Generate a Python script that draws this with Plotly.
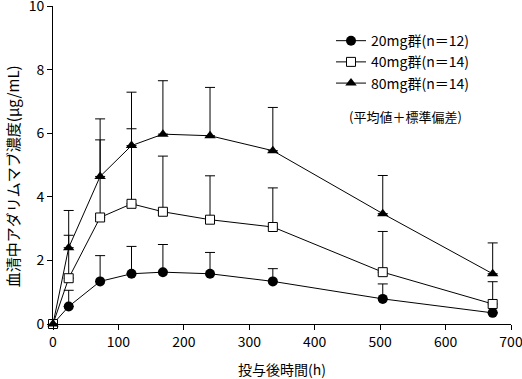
import plotly.graph_objects as go

hours = [0, 24, 72, 120, 168, 240, 336, 504, 672]
mean_20 = [0, 0.55, 1.34, 1.58, 1.63, 1.58, 1.34, 0.79, 0.35]
sd_20 = [0, 0.51, 0.81, 0.86, 0.87, 0.67, 0.40, 0.47, 0.0]
mean_40 = [0, 1.44, 3.35, 3.78, 3.53, 3.28, 3.05, 1.63, 0.63]
sd_40 = [0, 1.35, 2.44, 2.36, 1.75, 1.38, 1.23, 1.28, 0.70]
mean_80 = [0, 2.40, 4.64, 5.61, 5.97, 5.92, 5.45, 3.47, 1.58]
sd_80 = [0, 1.17, 1.81, 1.68, 1.68, 1.52, 1.36, 1.20, 0.97]

names = ["20mg群(n＝12)", "40mg群(n＝14)", "80mg群(n＝14)"]
FONT = "Noto Sans CJK JP"

fig = go.Figure()
series = [
    (mean_20, sd_20, dict(symbol="circle", size=10, color="black")),
    (mean_40, sd_40, dict(symbol="square", size=9, color="white", line=dict(color="black", width=1))),
    (mean_80, sd_80, dict(symbol="triangle-up", size=10, color="black")),
]
for (m, s, mk), nm in zip(series, names):
    fig.add_trace(go.Scatter(
        x=hours, y=m, name=nm, mode="lines+markers",
        line=dict(color="black", width=1),
        marker=mk,
        error_y=dict(type="data", array=s, arrayminus=[0]*len(s), symmetric=False,
                     color="black", thickness=1, width=5),
        cliponaxis=False,
    ))

fig.update_layout(
    width=522, height=379,
    margin=dict(l=53, r=11, t=6, b=55),
    plot_bgcolor="white", paper_bgcolor="white",
    font=dict(family=FONT, size=14, color="black"),
    showlegend=True,
    legend=dict(x=0.607, y=0.94, xanchor="left", yanchor="top",
                bgcolor="rgba(0,0,0,0)", font=dict(family=FONT, size=14),
                itemwidth=30, tracegroupgap=0),
    xaxis=dict(range=[0, 700], tickvals=[0, 100, 200, 300, 400, 500, 600, 700],
               showline=True, linecolor="black", linewidth=1, ticks="outside",
               ticklen=5, tickcolor="black", showgrid=False, zeroline=False,
               tickfont=dict(size=14), ticklabeloverflow="allow", automargin=False),
    yaxis=dict(range=[0, 10], tickvals=[0, 2, 4, 6, 8, 10],
               showline=True, linecolor="black", linewidth=1, ticks="outside",
               ticklen=5, tickcolor="black", showgrid=False, zeroline=False,
               tickfont=dict(size=14), ticklabeloverflow="allow", automargin=False),
    annotations=[
        dict(text="血清中アダリムマブ濃度(μg/mL)", xref="paper", yref="paper",
             x=-0.0895, y=0.465, textangle=-90, showarrow=False,
             font=dict(size=15), xanchor="center", yanchor="middle"),
        dict(text="投与後時間(h)", xref="paper", yref="paper",
             x=0.5, y=-0.143, showarrow=False, font=dict(size=14),
             xanchor="center", yanchor="middle"),
        dict(text="(平均値＋標準偏差)", xref="paper", yref="paper",
             x=0.77, y=0.654, showarrow=False, font=dict(size=13),
             xanchor="center", yanchor="middle"),
    ],
)

fig.write_html("out.html", config={"displayModeBar": False},
               post_script="document.body.style.margin='0px';")
